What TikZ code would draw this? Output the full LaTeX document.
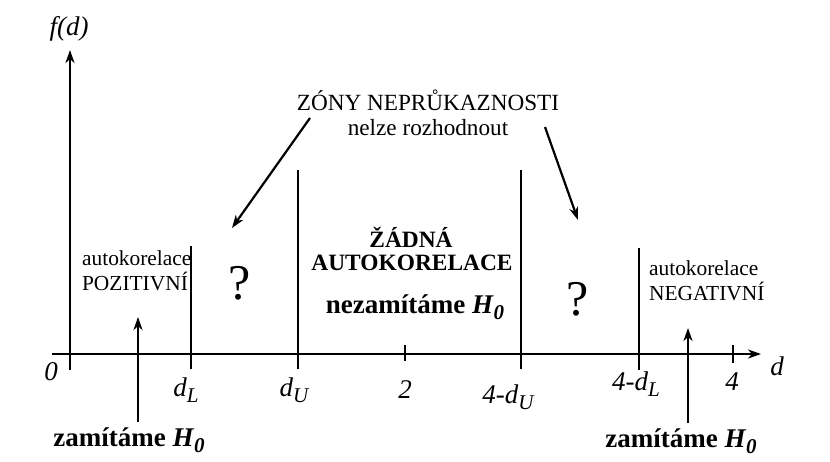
\documentclass[tikz,border=0pt]{standalone}
\usepackage{fontspec}
\setmainfont{Liberation Serif}
\usetikzlibrary{arrows.meta}
\newcommand{\sbs}[1]{\raisebox{-0.45ex}{\fontsize{10.5}{12}\selectfont #1}}
\begin{document}
\begin{tikzpicture}[x=0.5pt,y=-0.5pt, line width=1.1pt,
  arr/.style={-{Stealth[length=6.5pt,width=4.5pt,inset=2pt]}},
  zone/.style={line width=1.1pt},
  ital/.style={font=\fontsize{13.5}{15}\selectfont\itshape, inner sep=0pt},
  txt/.style={font=\fontsize{10.7}{12.5}\selectfont, inner sep=0pt, align=left},
  head/.style={font=\fontsize{11.6}{13}\selectfont, inner sep=0pt},
  bold/.style={font=\fontsize{11.7}{13}\selectfont\bfseries, inner sep=0pt},
  rej/.style={font=\fontsize{13.5}{15}\selectfont\bfseries, inner sep=0pt},
  qm/.style={font=\fontsize{25}{28}\selectfont, inner sep=0pt}]
\useasboundingbox (0,0) rectangle (830,461);
% axes
\coordinate (yb) at (70,370); \coordinate (yt) at (70,50);
\draw[arr] (yb) -- (yt);
\coordinate (xl) at (52,354); \coordinate (xr) at (761,354);
\draw[arr] (xl) -- (xr);
% ticks
\coordinate (t2a) at (405,345); \coordinate (t2b) at (405,361);
\draw (t2a) -- (t2b);
\coordinate (t4a) at (733,345); \coordinate (t4b) at (733,363);
\draw (t4a) -- (t4b);
% zone boundaries
\coordinate (dLa) at (191,246); \coordinate (dLb) at (191,369);
\coordinate (dUa) at (298,170); \coordinate (dUb) at (298,369);
\coordinate (eUa) at (521,170); \coordinate (eUb) at (521,369);
\coordinate (eLa) at (639,248); \coordinate (eLb) at (639,370);
\draw[zone] (dLa) -- (dLb);
\draw[zone] (dUa) -- (dUb);
\draw[zone] (eUa) -- (eUb);
\draw[zone] (eLa) -- (eLb);
% axis labels
\node[ital] (fd) at (69,29) {f(d)};
\node[ital] (l0) at (51,372) {0};
\node[ital] (ldL) at (186,390) {d\sbs{L}};
\node[ital] (ldU) at (294,390) {d\sbs{U}};
\node[ital] (l2) at (405,390) {2};
\node[ital] (leU) at (508,397) {4-d\sbs{U}};
\node[ital] (leL) at (636,384) {4-d\sbs{L}};
\node[ital] (l4) at (732,382) {4};
\node[ital] (ld) at (777,366) {d};
% region texts
\node[txt, anchor=west] (pos) at (81,271) {autokorelace\\POZITIVNÍ};
\node[txt, anchor=west] (neg) at (648,281) {autokorelace\\NEGATIVNÍ};
\node[bold] (zad1) at (411,237) {ŽÁDNÁ};
\node[bold] (zad2) at (412,263) {AUTOKORELACE};
\node[rej] (nez) at (415,307) {nezamítáme \textit{H}\sbs{\textit{0}}};
\node[qm] (q1) at (240,283) {?};
\node[qm] (q2) at (578,299) {?};
% top note
\node[head] (zony) at (428,100) {ZÓNY NEPRŮKAZNOSTI};
\node[head] (nelze) at (428,128) {nelze rozhodnout};
\coordinate (a1s) at (310,118); \coordinate (a1e) at (232,228);
\coordinate (a2s) at (545,127); \coordinate (a2e) at (578,220);
\draw[arr] (a1s) -- (a1e);
\draw[arr] (a2s) -- (a2e);
% rejection arrows
\coordinate (r1s) at (138,422); \coordinate (r1e) at (138,317);
\coordinate (r2s) at (688,423); \coordinate (r2e) at (688,328);
\draw[arr] (r1s) -- (r1e);
\draw[arr] (r2s) -- (r2e);
\node[rej] (z1) at (129,440) {zamítáme \textit{H}\sbs{\textit{0}}};
\node[rej] (z2) at (681,441) {zamítáme \textit{H}\sbs{\textit{0}}};
\end{tikzpicture}
\end{document}
